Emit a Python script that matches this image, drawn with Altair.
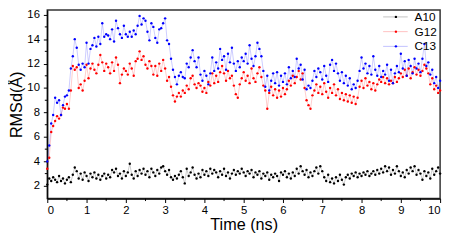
import altair as alt
import pandas as pd

series_names = ["A10", "G12", "C13"]
series_colors = ["#000000", "#ff0000", "#0000ff"]

# RMSd values (Å), sampled every 0.05 ns from 0 to 10 ns
a10 = [
    2.1, 2.6, 2.4, 2.7, 2.5, 2.3, 2.8, 2.4, 2.6, 2.2,
    2.5, 2.7, 2.3, 2.9, 3.5, 3.2, 2.6, 3.0, 2.5, 3.1,
    2.8, 2.4, 3.0, 2.7, 3.1, 2.6, 2.9, 2.5, 2.8, 3.0,
    2.6, 2.9, 2.7, 3.3, 3.1, 3.4, 2.8, 3.0, 2.6, 3.2,
    2.8, 3.1, 3.8, 2.9, 2.6, 3.2, 2.8, 3.3, 3.0, 3.4,
    2.9, 3.2, 2.7, 3.4, 3.1, 2.8, 3.3, 3.0, 3.5, 3.6,
    3.2, 2.9, 3.3, 2.7, 2.5, 2.8, 2.6, 2.9, 3.2, 2.7,
    2.2, 3.4, 2.8, 3.1, 3.5, 2.9, 2.6, 3.0, 2.7, 3.3,
    2.9, 3.2, 2.8, 3.4, 3.0, 3.3, 3.1, 2.7, 3.2, 2.9,
    3.4, 2.8, 3.1, 2.6, 3.0, 3.3, 2.9, 3.2, 3.0, 3.4,
    3.1, 2.8, 3.2, 3.0, 3.3, 2.7, 3.1, 2.9, 3.2, 2.6,
    3.0, 2.8, 3.1, 2.5, 2.9, 2.7, 3.0, 2.8, 2.4, 3.1,
    2.9, 3.2, 2.7, 3.0, 2.6, 3.1, 2.8, 3.4, 3.0, 3.6,
    3.2, 2.9, 3.3, 2.7, 3.1, 2.8, 3.2, 3.5, 3.0, 3.6,
    3.2, 2.7, 2.4, 2.9, 2.3, 2.6, 2.2, 2.7, 2.4, 2.9,
    2.5, 2.1, 2.7, 2.9, 2.6, 3.0, 2.8, 3.1, 2.7, 3.0,
    2.8, 3.1, 2.9, 3.2, 2.8, 3.0, 3.2, 2.9, 3.3, 3.0,
    3.4, 3.1, 3.6, 3.2, 3.5, 2.9, 3.3, 3.0, 3.6, 3.2,
    2.8, 3.1, 2.7, 3.3, 3.0, 3.5, 3.2, 3.6, 2.9, 3.3,
    3.0, 2.5, 3.2, 2.8, 3.1, 2.6, 3.4, 2.9, 3.2, 3.5,
    3.0,
]

g12 = [
    3.4, 4.3, 6.4, 6.9, 7.3, 7.7, 7.5, 7.8, 8.4, 8.3,
    8.7, 8.3, 9.8, 11.8, 11.5, 11.7, 10.0, 10.3, 9.8, 10.6,
    11.9, 10.8, 11.6, 12.0, 11.5, 11.2, 11.9, 12.7, 12.1, 11.4,
    12.0, 11.7, 11.2, 12.1, 11.4, 12.5, 11.9, 10.4, 11.1, 11.6,
    11.4, 11.1, 12.0, 11.6, 11.0, 12.2, 12.4, 13.0, 12.3, 12.6,
    11.9, 11.6, 12.2, 11.8, 11.1, 11.8, 11.0, 12.0, 11.4, 12.3,
    11.6, 10.6, 10.9, 10.1, 9.4, 8.9, 9.3, 9.6, 9.3, 9.8,
    9.6, 10.2, 9.9, 10.8, 11.0, 10.3, 10.0, 10.4, 10.2, 9.7,
    10.0, 9.6, 10.5, 10.2, 11.2, 10.4, 11.0, 10.5, 11.3, 11.8,
    11.2, 10.6, 11.4, 10.8, 11.0, 10.2, 9.5, 9.2, 10.3, 10.8,
    11.3, 10.6, 11.0, 10.4, 11.6, 10.8, 10.5, 11.2, 11.7, 10.9,
    10.2, 9.8, 8.3, 9.6, 10.1, 9.4, 9.9, 9.2, 9.8, 9.3,
    10.0, 9.5, 9.9, 10.6, 10.2, 11.0, 10.4, 10.9, 11.4, 10.7,
    11.2, 10.0, 9.0, 8.6, 8.3, 9.4, 9.8, 10.3, 9.6, 10.1,
    9.5, 10.4, 9.7, 9.2, 10.0, 9.6, 10.3, 9.4, 9.9, 9.1,
    9.6, 9.0, 9.5, 8.9, 9.4, 8.8, 9.3, 8.7, 9.2, 10.1,
    10.6, 10.0, 10.8, 10.2, 10.5, 9.9, 10.4, 9.8, 10.3, 10.7,
    10.5, 10.9, 10.4, 10.8, 10.3, 10.6, 10.4, 10.9, 10.5, 10.8,
    11.2, 10.9, 11.5, 11.0, 11.6, 10.8, 11.3, 11.7, 11.1, 11.5,
    11.0, 11.4, 11.9, 11.6, 11.2, 10.3, 10.8, 9.9, 10.2, 9.6,
    9.8,
]

c13 = [
    4.0, 5.3, 7.1, 7.8, 9.2, 8.8, 9.0, 7.8, 8.6, 9.3,
    9.4, 9.8, 11.6, 12.6, 14.0, 13.3, 11.9, 11.5, 12.0, 11.7,
    13.7, 12.0, 13.2, 13.5, 14.1, 13.4, 14.2, 13.6, 15.3, 14.2,
    14.4, 14.3, 14.0, 14.8, 13.8, 15.5, 14.9, 14.4, 14.1, 15.1,
    14.4, 14.2, 14.6, 14.2, 14.7, 14.4, 15.1, 15.9, 15.2, 15.7,
    15.5, 14.6, 13.9, 15.3, 15.0, 14.1, 13.7, 14.8, 14.9, 15.3,
    15.7, 13.9, 13.6, 12.4, 11.5, 10.9, 10.3, 11.0, 11.3, 10.9,
    10.8, 12.0, 11.7, 12.5, 13.1, 12.2, 11.7, 12.5, 11.1, 10.6,
    11.4, 11.0, 10.3, 11.2, 12.5, 11.4, 12.1, 11.6, 13.2, 12.3,
    12.6, 11.5, 12.8, 12.1, 13.3, 12.0, 11.4, 12.2, 11.7, 12.5,
    12.2, 12.8, 12.0, 13.5, 12.4, 11.8, 12.6, 13.7, 13.2, 12.6,
    11.4, 10.1, 11.0, 9.8, 10.6, 11.2, 10.4, 11.3, 10.2, 11.0,
    10.5, 11.2, 10.3, 11.7, 10.8, 11.4, 10.9, 12.4, 11.6, 11.9,
    10.7, 11.5, 9.9, 10.2, 10.0, 10.6, 11.4, 10.9, 11.6, 11.3,
    10.7, 11.8, 11.0, 10.5, 11.9, 12.3, 11.4, 12.0, 11.2, 10.6,
    11.3, 10.4, 11.0, 10.2, 10.8, 9.9, 10.3, 10.0, 10.6, 11.4,
    12.5, 11.6, 12.0, 11.2, 11.8, 11.1, 12.6, 11.5, 11.0, 11.8,
    10.9, 11.4, 11.1, 11.9, 10.6, 11.5, 10.4, 11.2, 11.8, 11.3,
    12.8, 11.6, 12.2, 11.0, 12.3, 11.8, 11.2, 12.4, 11.6, 12.0,
    11.3, 12.4, 13.6, 11.8, 12.1, 11.1, 11.5, 10.4, 10.9, 10.0,
    10.6,
]

x_major = [0, 1, 2, 3, 4, 5, 6, 7, 8, 9, 10]
x_minor = [0.5, 1.5, 2.5, 3.5, 4.5, 5.5, 6.5, 7.5, 8.5, 9.5]
y_major = [2, 4, 6, 8, 10, 12, 14, 16]
y_minor = [3, 5, 7, 9, 11, 13, 15]

rows = []
for name, vals in zip(series_names, [a10, g12, c13]):
    n = len(vals)
    for i, v in enumerate(vals):
        rows.append({"t": i * 10 / (n - 1), "rmsd": v, "series": name, "idx": i})
df = pd.DataFrame(rows)

FONT = "Liberation Sans"
W, H = 400, 192
X_DOMAIN = [0, 10]
Y_DOMAIN = [0.956, 16.38]

x_scale = alt.Scale(domain=X_DOMAIN, nice=False, zero=False)
y_scale = alt.Scale(domain=Y_DOMAIN, nice=False, zero=False)
x_axis = alt.Axis(
    values=x_major, title="Time (ns)", format="d", grid=False,
    tickSize=4, labelPadding=2, titlePadding=1,
)
y_axis = alt.Axis(
    values=y_major, title="RMSd(Å)", format="d", grid=False,
    tickSize=4, labelPadding=4, titlePadding=2,
)

x_enc = alt.X("t:Q", scale=x_scale, axis=x_axis)
y_enc = alt.Y("rmsd:Q", scale=y_scale, axis=y_axis)

color_scale = alt.Scale(domain=series_names, range=series_colors)

lines = alt.Chart(df).mark_line(strokeWidth=1, opacity=0.2).encode(
    x=x_enc,
    y=y_enc,
    color=alt.Color("series:N", scale=color_scale, legend=None),
    detail="series:N",
    order="idx:Q",
)

points = alt.Chart(df).mark_point(filled=True, size=6, opacity=1).encode(
    x=x_enc,
    y=y_enc,
    color=alt.Color("series:N", scale=color_scale, legend=None),
)

minor_x = alt.Chart(pd.DataFrame({"v": x_minor})).mark_rule(
    color="#000000", strokeWidth=1
).encode(
    x=alt.X("v:Q", scale=x_scale, axis=x_axis),
    y=alt.value(H), y2=alt.value(H + 2.5),
)

minor_y = alt.Chart(pd.DataFrame({"v": y_minor})).mark_rule(
    color="#000000", strokeWidth=1
).encode(
    y=alt.Y("v:Q", scale=y_scale, axis=y_axis),
    x=alt.value(-2.5), x2=alt.value(0),
)

# legend (top-right, inside the plot frame)
LEG_X0, LEG_X1, LEG_DOT, LEG_TXT = 342, 367, 355, 374
LEG_Y0, LEG_DY = 7, 15
legend_layers = []
for i, (name, col) in enumerate(zip(series_names, series_colors)):
    ly = LEG_Y0 + LEG_DY * i
    ld = pd.DataFrame({"label": [name]})
    legend_layers.append(
        alt.Chart(ld).mark_rule(color=col, strokeWidth=1, opacity=0.25).encode(
            x=alt.value(LEG_X0), x2=alt.value(LEG_X1), y=alt.value(ly)
        )
    )
    legend_layers.append(
        alt.Chart(ld).mark_point(filled=True, size=6, opacity=1, color=col).encode(
            x=alt.value(LEG_DOT), y=alt.value(ly)
        )
    )
    legend_layers.append(
        alt.Chart(ld).mark_text(
            align="left", baseline="middle", font=FONT, fontSize=12, color="#000000"
        ).encode(text="label:N", x=alt.value(LEG_TXT), y=alt.value(ly))
    )

chart = (
    alt.layer(lines, points, minor_x, minor_y, *legend_layers)
    .properties(
        width=W, height=H,
        autosize=alt.AutoSizeParams(type="none"),
        padding={"left": 40, "top": 0, "right": 6, "bottom": 35},
    )
    .configure_view(stroke="#333333", strokeWidth=1.5)
    .configure_axis(
        labelFont=FONT, titleFont=FONT, labelFontSize=11.5, titleFontSize=16.5,
        titleFontWeight="normal", labelColor="#000000", titleColor="#000000",
        domainColor="#000000", tickColor="#000000", domainWidth=1.2, tickWidth=1,
    )
)

chart.save("out.html", embed_options={"renderer": "svg", "actions": False})
